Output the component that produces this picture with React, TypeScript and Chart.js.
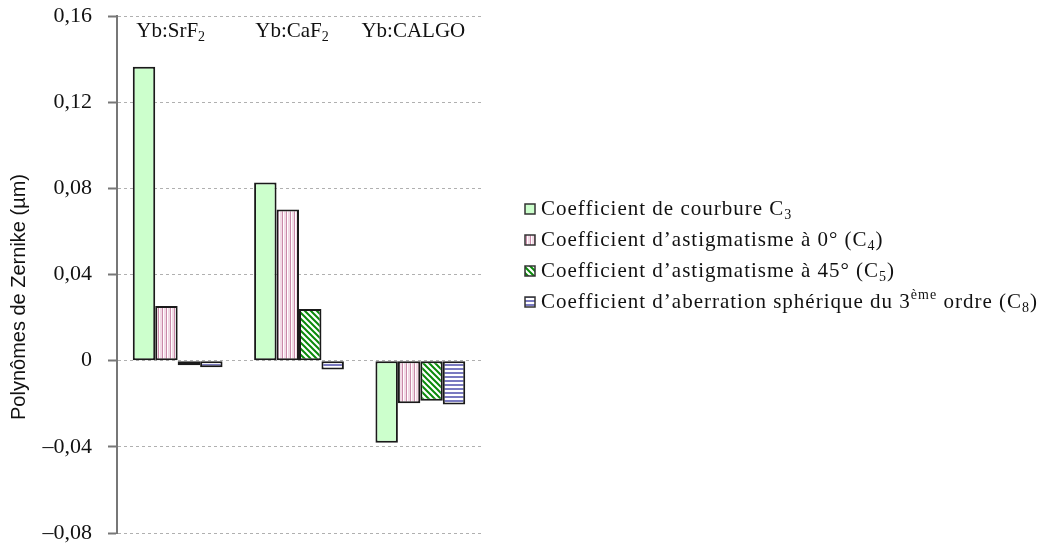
import React, { useEffect, useRef } from "react";
import { Chart, registerables } from "chart.js";

Chart.register(...registerables);

const categories = ["Yb:SrF_{2}", "Yb:CaF_{2}", "Yb:CALGO"];
const courbure = [0.1364, 0.0827, -0.0381];
const astig0 = [0.0254, 0.0702, -0.0198];
const astig45 = [-0.0021, 0.0240, -0.0186];
const spherique = [-0.003, -0.0041, -0.0203];
const seriesLabels = [
  "Coefficient de courbure C_{3}",
  "Coefficient d’astigmatisme à 0° (C_{4})",
  "Coefficient d’astigmatisme à 45° (C_{5})",
  "Coefficient d’aberration sphérique du 3^{ème} ordre (C_{8})",
];
const yTitle = "Polynômes de Zernike (µm)";
const yMin = -0.08;
const yMax = 0.16;
const yStep = 0.04;

const SERIF = "'Liberation Serif', 'Times New Roman', serif";
const SANS = "'Liberation Sans', Arial, sans-serif";

function makePattern(kind: string): CanvasPattern | string {
  const c = document.createElement("canvas");
  const ctx = c.getContext("2d")!;
  if (kind === "green") return "#ccffcc";
  if (kind === "pink") {
    c.width = 4; c.height = 4;
    ctx.fillStyle = "#f2dbe6"; ctx.fillRect(0, 0, 4, 4);
    ctx.fillStyle = "#c98aa9"; ctx.fillRect(2, 0, 1, 4);
    ctx.fillStyle = "#ffffff"; ctx.fillRect(3, 0, 1, 4);
  } else if (kind === "hatch") {
    c.width = 6; c.height = 6;
    ctx.fillStyle = "#ffffff"; ctx.fillRect(0, 0, 6, 6);
    ctx.strokeStyle = "#0a8a0a"; ctx.lineWidth = 2;
    ctx.beginPath();
    ctx.moveTo(-1, -1); ctx.lineTo(7, 7);
    ctx.moveTo(-4, 2); ctx.lineTo(2, 8);
    ctx.moveTo(2, -4); ctx.lineTo(8, 2);
    ctx.stroke();
  } else {
    c.width = 4; c.height = 4;
    ctx.fillStyle = "#ffffff"; ctx.fillRect(0, 0, 4, 4);
    ctx.fillStyle = "#7a7ac0"; ctx.fillRect(0, 0, 4, 2);
  }
  return ctx.createPattern(c, "repeat")!;
}

function parseRich(s: string) {
  const parts: { t: string; mode: "n" | "sub" | "sup" }[] = [];
  const re = /([_^])\{([^}]*)\}/g;
  let last = 0;
  let m: RegExpExecArray | null;
  while ((m = re.exec(s))) {
    if (m.index > last) parts.push({ t: s.slice(last, m.index), mode: "n" });
    parts.push({ t: m[2], mode: m[1] === "_" ? "sub" : "sup" });
    last = m.index + m[0].length;
  }
  if (last < s.length) parts.push({ t: s.slice(last), mode: "n" });
  return parts;
}

function richWidth(ctx: CanvasRenderingContext2D, s: string, size: number, family: string, ls = 0) {
  let w = 0;
  (ctx as any).letterSpacing = `${ls}px`;
  for (const p of parseRich(s)) {
    ctx.font = `${p.mode === "n" ? size : Math.round(size * 0.65)}px ${family}`;
    w += ctx.measureText(p.t).width;
  }
  (ctx as any).letterSpacing = "0px";
  return w;
}

function drawRich(ctx: CanvasRenderingContext2D, s: string, x: number, y: number, size: number, family: string, ls = 0) {
  let cx = x;
  ctx.textBaseline = "middle";
  ctx.textAlign = "left";
  (ctx as any).letterSpacing = `${ls}px`;
  for (const p of parseRich(s)) {
    const fs = p.mode === "n" ? size : Math.round(size * 0.65);
    ctx.font = `${fs}px ${family}`;
    const dy = p.mode === "sub" ? size * 0.3 : p.mode === "sup" ? -size * 0.3 : 0;
    ctx.fillText(p.t, cx, y + dy);
    cx += ctx.measureText(p.t).width;
  }
  (ctx as any).letterSpacing = "0px";
}

export default function App() {
  const ref = useRef<HTMLCanvasElement>(null);
  useEffect(() => {
    const fills = [makePattern("green"), makePattern("pink"), makePattern("hatch"), makePattern("blue")];
    const values = [courbure, astig0, astig45, spherique];
    const overlay = {
      id: "overlay",
      afterDatasetsDraw(chart: any) {
        const ctx: CanvasRenderingContext2D = chart.ctx;
        const xs = chart.scales.x;
        const area = chart.chartArea;
        ctx.save();
        ctx.fillStyle = "#111";
        categories.forEach((c, i) => {
          const w = richWidth(ctx, c, 21, SERIF);
          drawRich(ctx, c, xs.getPixelForValue(i) - w / 2 - 7, area.top + 15, 21, SERIF);
        });
        ctx.translate(19, 297);
        ctx.rotate(-Math.PI / 2);
        ctx.font = `20px ${SANS}`;
        ctx.textAlign = "center";
        ctx.textBaseline = "middle";
        ctx.fillStyle = "#111";
        ctx.fillText(yTitle, 0, 0);
        ctx.restore();
        ctx.save();
        const ys = [209, 240, 271, 302];
        seriesLabels.forEach((lab, i) => {
          const y = ys[i];
          ctx.fillStyle = fills[i] as any;
          ctx.fillRect(525, y - 5, 10, 10);
          ctx.strokeStyle = "#333";
          ctx.lineWidth = 1.5;
          ctx.strokeRect(525, y - 5, 10, 10);
          ctx.fillStyle = "#111";
          drawRich(ctx, lab, 541, y, 21, SERIF, 1);
        });
        ctx.restore();
      },
    };
    const chart = new Chart(ref.current!, {
      type: "bar",
      data: {
        labels: categories,
        datasets: values.map((v, i) => ({
          label: seriesLabels[i],
          data: v,
          backgroundColor: fills[i] as any,
          borderColor: "#1a1a1a",
          borderWidth: 2,
          borderSkipped: false,
          categoryPercentage: 0.74,
          barPercentage: 1.0,
        })),
      },
      options: {
        animation: false,
        responsive: false,
        maintainAspectRatio: false,
        layout: { padding: { left: 0, top: 16, right: 565, bottom: 15 } },
        plugins: { legend: { display: false }, tooltip: { enabled: false } },
        scales: {
          x: { display: false },
          y: {
            min: yMin,
            max: yMax,
            afterFit: (s: any) => {
              s.width = 117;
              s.paddingTop = 0;
              s.paddingBottom = 0;
            },
            ticks: {
              stepSize: yStep,
              padding: 16,
              color: "#111",
              font: { family: SERIF, size: 22 },
              callback: (v: any) => {
                const n = Number(v);
                if (Math.abs(n) < 1e-9) return "0";
                return (n < 0 ? "–" : "") + Math.abs(n).toFixed(2).replace(".", ",");
              },
            },
            grid: {
              color: "#b0b0b0",
              lineWidth: 1,
              drawTicks: true,
              tickLength: 9,
              tickColor: "#777",
              tickWidth: 2,
            },
            border: { display: true, color: "#777", width: 2, dash: [3, 3] },
          },
        },
      },
      plugins: [overlay],
    });
    return () => chart.destroy();
  }, []);
  return (
    <div style={{ position: "absolute", left: 0, top: 0, width: 1046, height: 548, background: "#fff" }}>
      <canvas ref={ref} width={1046} height={548} style={{ width: 1046, height: 548 }} />
    </div>
  );
}
